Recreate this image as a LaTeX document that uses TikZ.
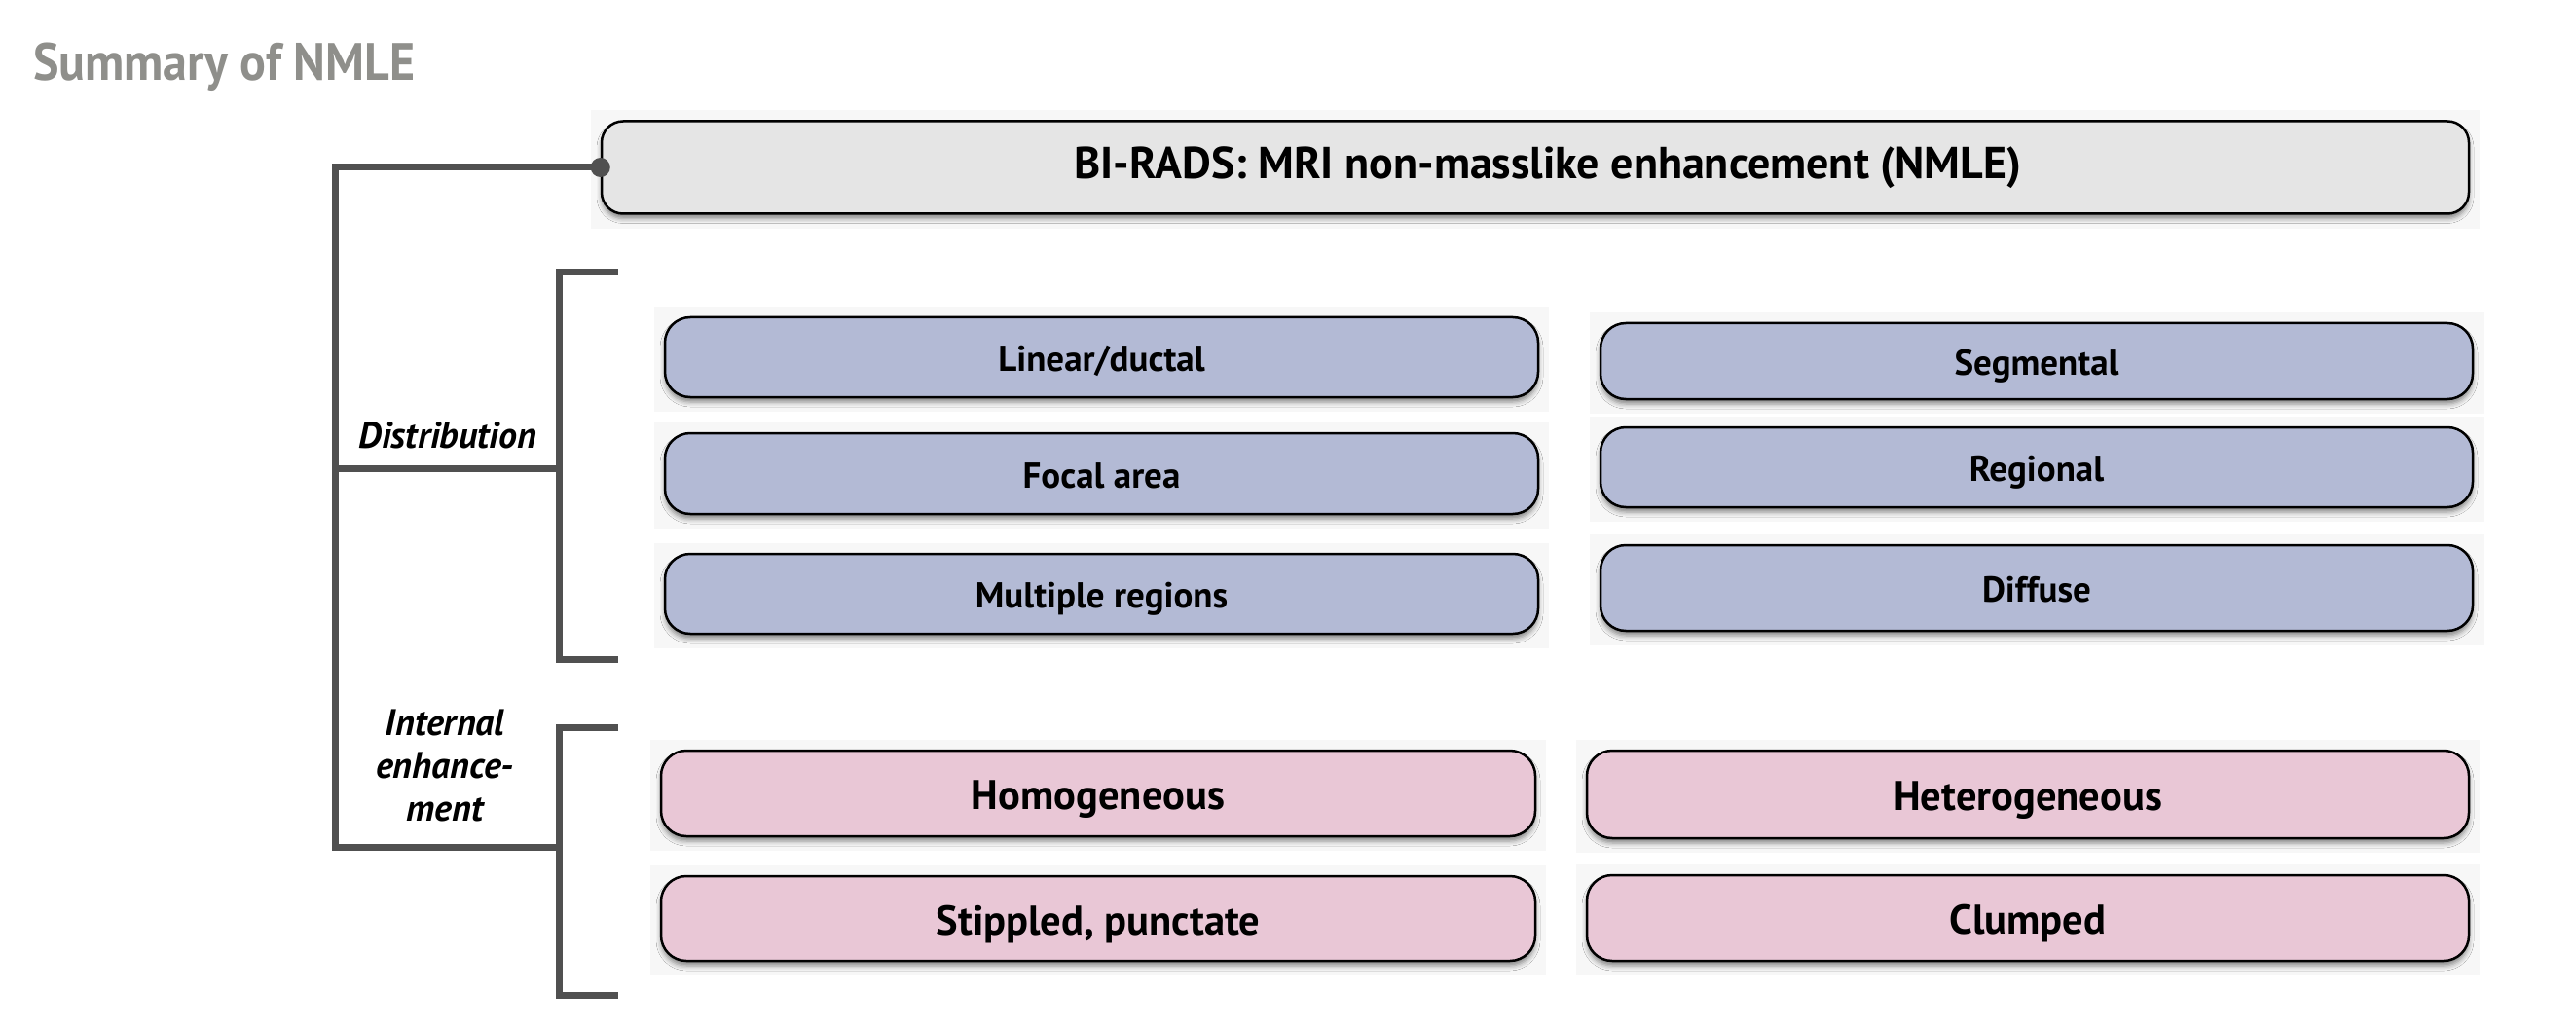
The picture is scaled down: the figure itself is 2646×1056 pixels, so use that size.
\documentclass[tikz,border=0pt]{standalone}
\usepackage{fontspec}
\usepackage{graphicx}
\setmainfont{PT Sans}
\usetikzlibrary{shadows.blur,calc}
\definecolor{linegray}{HTML}{505050}
\definecolor{titlegray}{HTML}{8F8F8B}
\definecolor{topfill}{HTML}{E5E5E5}
\definecolor{bluefill}{HTML}{B3BAD5}
\definecolor{pinkfill}{HTML}{E9C7D6}
\definecolor{halo}{HTML}{F7F7F7}
\pgfdeclarelayer{bg}
\pgfsetlayers{bg,main}
\begin{document}
\begin{tikzpicture}[x=1pt,y=-1pt,
  box/.style={draw=black, line width=2.5pt, rounded corners=26pt, inner sep=0pt,
    font=\bfseries\fontsize{37}{43}\selectfont,
    blur shadow={shadow xshift=0pt, shadow yshift=-5pt, shadow blur radius=5pt, shadow opacity=45}},
  bluebox/.style={box, fill=bluefill, text height=29pt, text depth=0pt},
  pinkbox/.style={box, fill=pinkfill, font=\bfseries\fontsize{42.5}{48}\selectfont, text height=33pt, text depth=0pt},
  topbox/.style={box, fill=topfill, rounded corners=22pt, font=\bfseries\fontsize{46}{52}\selectfont},
  conn/.style={draw=linegray, line width=7pt, line join=miter, line cap=butt},
  lbl/.style={font=\bfseries\itshape\fontsize{38}{44}\selectfont, align=center, inner sep=0pt},
]
\useasboundingbox (0,0) rectangle (2646,1056);

% title
\node[anchor=base west, inner sep=0pt, text=titlegray, font=\bfseries\fontsize{54}{60}\selectfont] (title) at (34,83) {\scalebox{0.925}[1]{Summary of NMLE}};

% top box
\node[topbox, minimum width=1918pt, minimum height=95pt] (top) at (1577,172) {\hspace*{26pt}BI-RADS: MRI non-masslike enhancement (NMLE)};

% distribution boxes
\node[bluebox, minimum width=897pt, minimum height=82pt] (lin) at (1131.5,367) {Linear/ductal};
\node[bluebox, minimum width=897pt, minimum height=83pt] (foc) at (1131.5,486.5) {Focal area};
\node[bluebox, minimum width=897pt, minimum height=82pt] (mul) at (1131.5,610) {Multiple regions};
\node[bluebox, minimum width=896pt, minimum height=78pt] (seg) at (2092,371) {Segmental};
\node[bluebox, minimum width=896pt, minimum height=82pt] (reg) at (2092,480) {Regional};
\node[bluebox, minimum width=896pt, minimum height=88pt] (dif) at (2092,604) {Diffuse};

% internal enhancement boxes
\node[pinkbox, minimum width=898pt, minimum height=88pt] (hom) at (1128,815) {Homogeneous};
\node[pinkbox, minimum width=898pt, minimum height=87pt] (sti) at (1128,943.5) {Stippled, punctate};
\node[pinkbox, minimum width=906pt, minimum height=90pt] (het) at (2083,816) {Heterogeneous};
\node[pinkbox, minimum width=906pt, minimum height=88pt] (clu) at (2083,943) {Clumped};

% faint halos behind boxes
\begin{pgfonlayer}{bg}
\foreach \n in {top,lin,foc,mul,seg,reg,dif,hom,sti,het,clu}{
  \fill[halo] ($(\n.south west)+(-10,14)$) rectangle ($(\n.north east)+(10,-10)$);
}
\end{pgfonlayer}

% labels
\node[lbl, anchor=base] (dist) at (460,460) {Distribution};
\node[lbl] (inten) at (457,786) {Internal\\enhance-\\ment};

% connector coordinates
\coordinate (trunkTop) at (344,172);
\coordinate (trunkBot) at (344,870);
\coordinate (distJ) at (344,481);
\coordinate (distB) at (574,481);
\coordinate (intB) at (574,870);
\coordinate (dTop) at (635,280);
\coordinate (dBot) at (635,677);
\coordinate (iTop) at (635,747);
\coordinate (iBot) at (635,1022);

\draw[conn] (top.west) -- (trunkTop) -- (trunkBot) -- (intB);
\draw[conn] (distJ) -- (distB);
\draw[conn] (dTop) -| (distB) |- (dBot);
\draw[conn] (iTop) -| (intB) |- (iBot);
\fill[linegray] (top.west) circle (10pt);
\end{tikzpicture}
\end{document}
